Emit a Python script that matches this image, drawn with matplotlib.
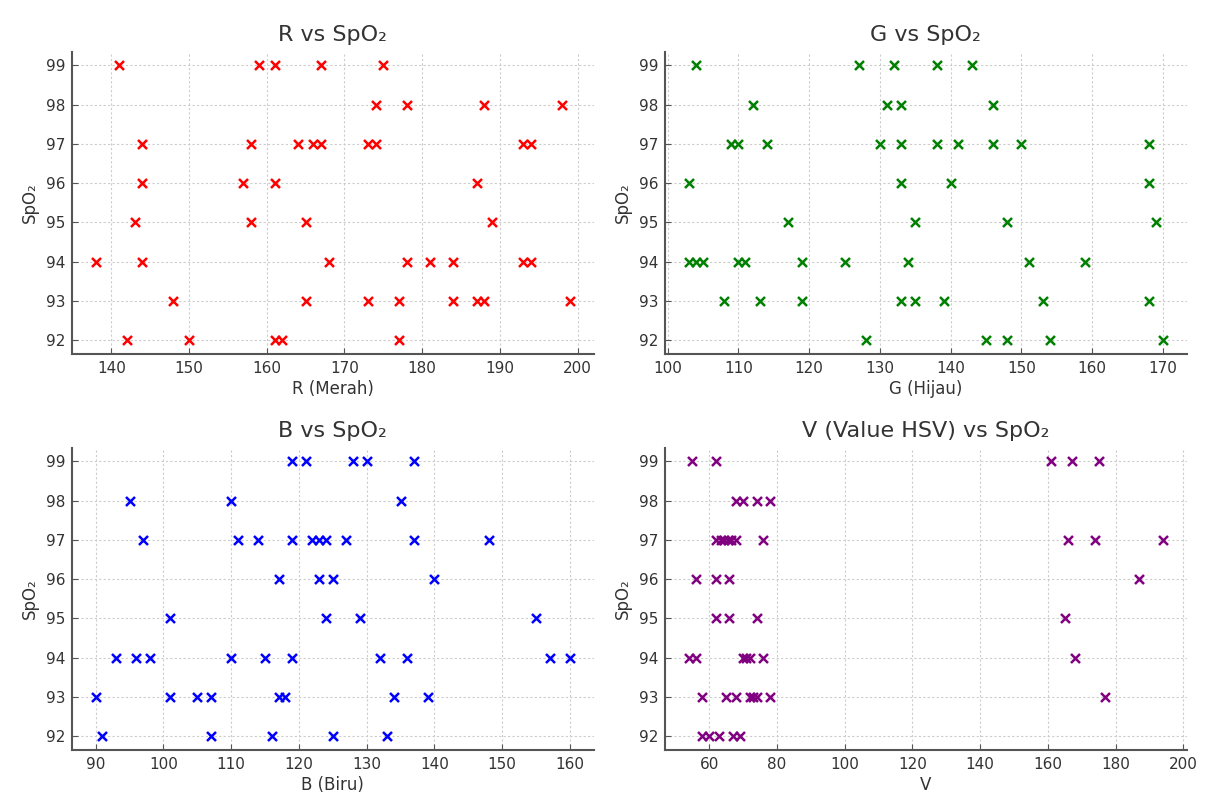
import matplotlib
matplotlib.use("Agg")
import matplotlib.pyplot as plt

# ---- data ----
r_vals = [141, 159, 161, 167, 175,
          174, 178, 188, 198,
          144, 158, 164, 166, 167, 173, 174, 193, 194,
          144, 157, 161, 187,
          143, 158, 165, 189,
          138, 144, 168, 178, 181, 184, 193, 194,
          148, 165, 173, 177, 184, 187, 188, 199,
          142, 150, 161, 162, 177]
r_spo2 = [99] * 5 + [98] * 4 + [97] * 9 + [96] * 4 + [95] * 4 + [94] * 8 + [93] * 8 + [92] * 5

g_vals = [104, 127, 132, 138, 143,
          112, 131, 133, 146,
          109, 110, 114, 130, 133, 138, 141, 146, 150, 168,
          103, 133, 140, 168,
          117, 135, 148, 169,
          103, 104, 105, 110, 111, 119, 125, 134, 151, 159,
          108, 113, 119, 133, 135, 139, 153, 168,
          128, 145, 148, 154, 170]
g_spo2 = [99] * 5 + [98] * 4 + [97] * 10 + [96] * 4 + [95] * 4 + [94] * 10 + [93] * 8 + [92] * 5

b_vals = [119, 121, 128, 130, 137,
          95, 110, 135,
          97, 111, 114, 119, 122, 123, 124, 127, 137, 148,
          117, 123, 125, 140,
          101, 124, 129, 155,
          93, 96, 98, 110, 115, 119, 132, 136, 157, 160,
          90, 101, 105, 107, 117, 118, 134, 139,
          91, 107, 116, 125, 133]
b_spo2 = [99] * 5 + [98] * 3 + [97] * 10 + [96] * 4 + [95] * 4 + [94] * 10 + [93] * 8 + [92] * 5

v_vals = [55, 62, 161, 167, 175,
          68, 70, 74, 78,
          62, 63.5, 64.5, 65.5, 66.5, 68, 76, 166, 174, 194,
          56, 62, 66, 187,
          62, 66, 74, 165,
          54, 56, 70, 71, 72, 76, 168,
          58, 65, 68, 72, 73, 74, 78, 177,
          58, 60, 63, 67, 69]
v_spo2 = [99] * 5 + [98] * 4 + [97] * 10 + [96] * 4 + [95] * 4 + [94] * 7 + [93] * 8 + [92] * 5

TEXT = "#333333"
SPINE = "#555555"


def style_axes(ax, title, xlabel):
    ax.set_title(title, fontsize=16, color=TEXT, pad=8)
    ax.set_xlabel(xlabel, fontsize=12, color=TEXT, labelpad=3)
    ax.set_ylabel("SpO₂", fontsize=12, color=TEXT, labelpad=5)
    ax.set_yticks(range(92, 100))
    ax.tick_params(direction="in", labelsize=11, colors=TEXT, color=SPINE,
                   length=4, pad=5)
    ax.grid(True, linestyle=(0, (2, 2)), color="#cccccc", linewidth=0.8)
    ax.set_axisbelow(True)
    for side in ("top", "right"):
        ax.spines[side].set_visible(False)
    for side in ("left", "bottom"):
        ax.spines[side].set_color(SPINE)
        ax.spines[side].set_linewidth(1.5)


fig, axes = plt.subplots(2, 2, figsize=(12.08, 7.96), dpi=100)
fig.subplots_adjust(left=0.0596, right=0.9824, top=0.935, bottom=0.058,
                    wspace=0.137, hspace=0.31)

panels = [
    (axes[0, 0], r_vals, r_spo2, "red", "R vs SpO₂", "R (Merah)"),
    (axes[0, 1], g_vals, g_spo2, "green", "G vs SpO₂", "G (Hijau)"),
    (axes[1, 0], b_vals, b_spo2, "blue", "B vs SpO₂", "B (Biru)"),
    (axes[1, 1], v_vals, v_spo2, "purple", "V (Value HSV) vs SpO₂", "V"),
]
for ax, xs, ys, col, title, xlabel in panels:
    ax.scatter(xs, ys, marker="x", color=col, s=42, linewidths=1.8)
    style_axes(ax, title, xlabel)

fig.savefig("out.png", dpi=100)
